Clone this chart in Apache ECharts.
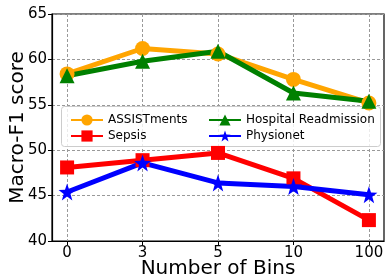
<!DOCTYPE html>
<html>
<head>
<meta charset="utf-8">
<script src="https://cdn.jsdelivr.net/npm/echarts@6/dist/echarts.min.js"></script>
<style>
  html, body { margin: 0; padding: 0; background: #fff; }
  #main { width: 385px; height: 278px; }
</style>
</head>
<body>
<div id="main"></div>
<script>
// x 轴类别
var bins = ['0', '3', '5', '10', '100'];
var yTicks = [40, 45, 50, 55, 60, 65];
// 各数据集的 Macro-F1
var assistments = [58.4, 61.2, 60.6, 57.8, 55.2];
var sepsis = [48.1, 48.9, 49.7, 46.9, 42.3];
var hospital = [58.2, 59.8, 60.9, 56.3, 55.4];
var physionet = [45.4, 48.6, 46.4, 46.0, 45.1];

var starPath = 'path://M0,-10 L2.35,-3.24 L9.51,-3.09 L3.8,1.24 L5.88,8.09 L0,4 L-5.88,8.09 L-3.8,1.24 L-9.51,-3.09 L-2.35,-3.24 Z';
var font = 'DejaVu Sans';

function pts(arr) {
  return arr.map(function (v, i) { return [i, v]; });
}

function line(name, data, color, symbol, size) {
  return {
    name: name,
    type: 'line',
    data: pts(data),
    symbol: symbol,
    symbolSize: size,
    lineStyle: { color: color, width: 5 },
    itemStyle: { color: color },
    animation: false
  };
}

var myChart = echarts.init(document.getElementById('main'));
myChart.setOption({
  animation: false,
  textStyle: { fontFamily: font },
  grid: {
    left: 52, right: 1, top: 14, bottom: 37,
    outerBoundsMode: 'none',
    show: true, borderColor: '#000', borderWidth: 1.2
  },
  legend: [
    {
      data: ['ASSISTments', 'Sepsis'],
      orient: 'vertical',
      left: 65, top: 109,
      itemWidth: 32, itemHeight: 14, itemGap: 4,
      textStyle: { fontSize: 12, color: '#000', fontFamily: font }
    },
    {
      data: ['Hospital Readmission', 'Physionet'],
      orient: 'vertical',
      left: 203, top: 109,
      itemWidth: 32, itemHeight: 14, itemGap: 4,
      textStyle: { fontSize: 12, color: '#000', fontFamily: font }
    }
  ],
  graphic: [{
    type: 'rect',
    left: 61, top: 106,
    shape: { width: 319, height: 40, r: 3 },
    style: { fill: 'rgba(255,255,255,0.8)', stroke: '#ccc', lineWidth: 1 },
    z: 3
  }],
  xAxis: {
    type: 'value',
    min: -0.2, max: 4.2,
    name: 'Number of Bins',
    nameLocation: 'middle',
    nameMoveOverlap: false,
    nameGap: 18,
    nameTextStyle: { fontSize: 20, color: '#000', fontFamily: font },
    axisLine: { onZero: false, lineStyle: { color: '#000', width: 1.2 } },
    axisTick: { show: true, length: 4, lineStyle: { color: '#000' }, customValues: [0, 1, 2, 3, 4] },
    axisLabel: {
      customValues: [0, 1, 2, 3, 4],
      fontSize: 15, color: '#000', margin: 5,
      formatter: function (v) { return bins[Math.round(v)]; }
    },
    splitLine: { show: true, lineStyle: { color: '#999', type: [3, 2], width: 1 } }
  },
  yAxis: {
    type: 'value',
    min: 40, max: 65, interval: 5,
    name: 'Macro-F1 score',
    nameLocation: 'middle',
    nameMoveOverlap: false,
    nameGap: 24,
    nameTextStyle: { fontSize: 20, color: '#000', fontFamily: font },
    axisLine: { show: true, onZero: false, lineStyle: { color: '#000', width: 1.2 } },
    axisTick: { show: true, length: 4, lineStyle: { color: '#000' } },
    axisLabel: { fontSize: 15, color: '#000', margin: 5 },
    splitLine: { show: true, lineStyle: { color: '#999', type: [3, 2], width: 1 } }
  },
  series: [
    line('ASSISTments', assistments, '#FFA500', 'circle', 15),
    line('Sepsis', sepsis, '#FF0000', 'rect', 14),
    line('Hospital Readmission', hospital, '#008000', 'triangle', 15),
    line('Physionet', physionet, '#0000FF', starPath, 17)
  ]
});
</script>
</body>
</html>
